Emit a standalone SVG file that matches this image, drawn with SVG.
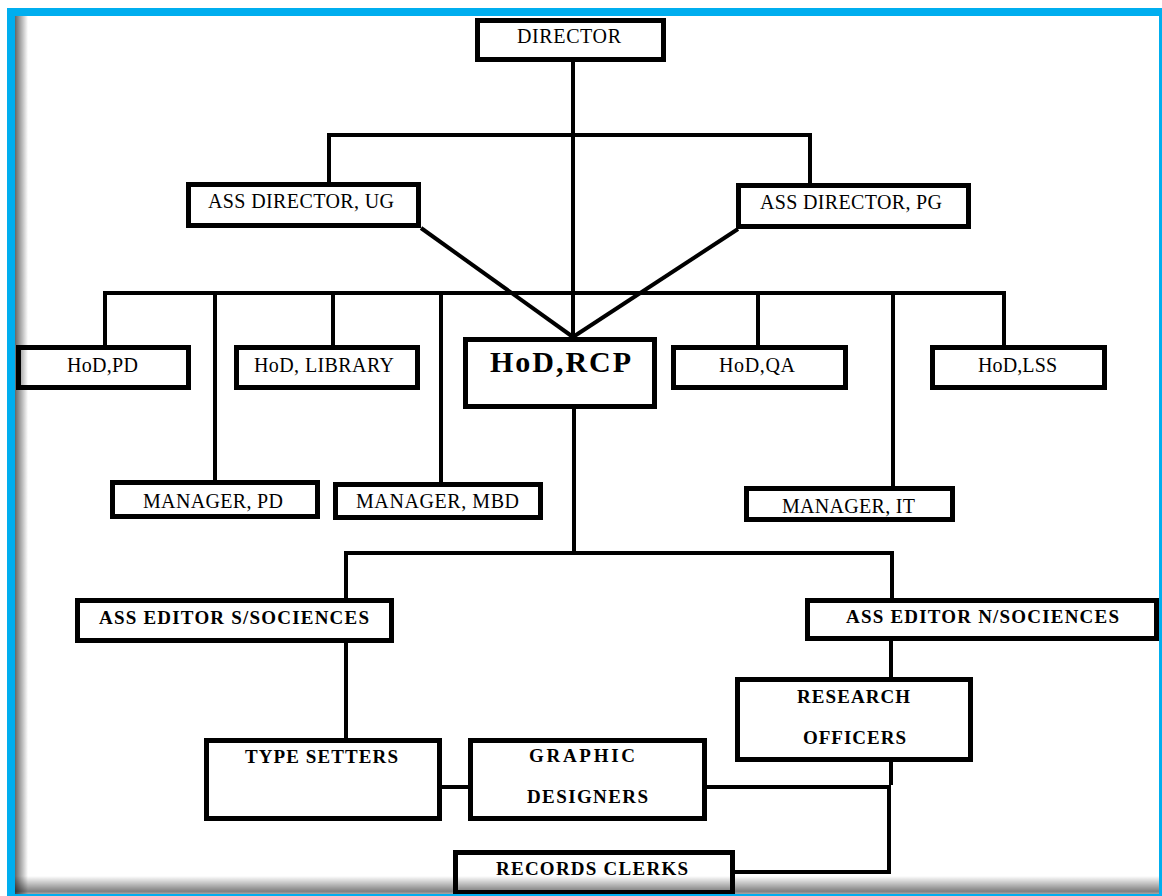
<svg xmlns="http://www.w3.org/2000/svg" width="1162" height="896" viewBox="0 0 1162 896">
<defs>
<linearGradient id="shL" x1="0" y1="0" x2="1" y2="0">
<stop offset="0" stop-color="#000" stop-opacity="0.6"/>
<stop offset="1" stop-color="#000" stop-opacity="0"/>
</linearGradient>
<linearGradient id="shB" x1="0" y1="0" x2="0" y2="1">
<stop offset="0" stop-color="#000" stop-opacity="0"/>
<stop offset="0.85" stop-color="#000" stop-opacity="0.5"/>
<stop offset="1" stop-color="#000" stop-opacity="0.35"/>
</linearGradient>
<style>
.box{fill:#fff;stroke:#000;stroke-width:5}
.ln{fill:none;stroke:#000;stroke-width:4}
.t{font-family:"Liberation Serif","Times New Roman",serif;font-size:20px;fill:#000}
.b{font-family:"Liberation Serif","Times New Roman",serif;font-size:19px;font-weight:bold;fill:#000}
.big{font-family:"Liberation Serif","Times New Roman",serif;font-size:30px;font-weight:bold;fill:#000}
</style>
</defs>
<rect x="0" y="0" width="1162" height="896" fill="#fff"/>

<g id="connectors">
<path class="ln" d="M573,62 V337"/>
<path class="ln" d="M329,183 V135 H810 V184"/>
<path class="ln" d="M421,228 L573,337"/>
<path class="ln" d="M738,229 L573,337"/>
<path class="ln" d="M105,346 V293 H1004 V346"/>
<path class="ln" d="M215,293 V481"/>
<path class="ln" d="M333,293 V346"/>
<path class="ln" d="M441,293 V483"/>
<path class="ln" d="M758,293 V346"/>
<path class="ln" d="M893,293 V487"/>
<path class="ln" d="M574,409 V553"/>
<path class="ln" d="M346,599 V553 H892 V599"/>
<path class="ln" d="M346,643 V739"/>
<path class="ln" d="M891,641 V678"/>
<path class="ln" d="M440,787 H470"/>
<path class="ln" d="M891,760 V785"/>
<path class="ln" d="M706,787 H889 V872 H734"/>
</g>

<g id="director"><rect class="box" x="477.5" y="20.5" width="186" height="39"/><text class="t" x="517" y="43" textLength="104">DIRECTOR</text></g>
<g id="ass-director-ug"><rect class="box" x="188.5" y="184.5" width="230" height="41"/><text class="t" x="208" y="208" textLength="186">ASS DIRECTOR, UG</text></g>
<g id="ass-director-pg"><rect class="box" x="738.5" y="185.5" width="230" height="41"/><text class="t" x="760" y="209" textLength="182">ASS DIRECTOR, PG</text></g>
<g id="hod-pd"><rect class="box" x="18.5" y="347.5" width="170" height="40"/><text class="t" x="67" y="372" textLength="71">HoD,PD</text></g>
<g id="hod-library"><rect class="box" x="236.5" y="347.5" width="181" height="40"/><text class="t" x="254" y="372" textLength="140">HoD, LIBRARY</text></g>
<g id="hod-rcp"><rect class="box" x="465.5" y="339.5" width="189" height="67"/><text class="big" x="490" y="372" textLength="141">HoD,RCP</text></g>
<g id="hod-qa"><rect class="box" x="673.5" y="347.5" width="172" height="40"/><text class="t" x="719" y="372" textLength="76">HoD,QA</text></g>
<g id="hod-lss"><rect class="box" x="932.5" y="347.5" width="172" height="40"/><text class="t" x="978" y="372" textLength="79">HoD,LSS</text></g>
<g id="manager-pd"><rect class="box" x="112.5" y="482.5" width="205" height="34"/><text class="t" x="143" y="508" textLength="140">MANAGER, PD</text></g>
<g id="manager-mbd"><rect class="box" x="335.5" y="484.5" width="205" height="33"/><text class="t" x="356" y="508" textLength="163">MANAGER, MBD</text></g>
<g id="manager-it"><rect class="box" x="746.5" y="488.5" width="206" height="31"/><text class="t" x="782" y="513" textLength="133">MANAGER, IT</text></g>
<g id="ass-editor-s"><rect class="box" x="77.5" y="600.5" width="314" height="40"/><text class="b" x="99" y="624" textLength="270">ASS EDITOR S/SOCIENCES</text></g>
<g id="ass-editor-n"><rect class="box" x="807.5" y="600.5" width="349" height="38"/><text class="b" x="846" y="623" textLength="273">ASS EDITOR N/SOCIENCES</text></g>
<g id="research-officers"><rect class="box" x="737.5" y="679.5" width="233" height="80"/><text class="b" x="797" y="703" textLength="113">RESEARCH</text><text class="b" x="803" y="744" textLength="103">OFFICERS</text></g>
<g id="type-setters"><rect class="box" x="206.5" y="740.5" width="233" height="78"/><text class="b" x="245" y="763" textLength="153">TYPE SETTERS</text></g>
<g id="graphic-designers"><rect class="box" x="470.5" y="740.5" width="234" height="78"/><text class="b" x="529" y="762" textLength="106">GRAPHIC</text><text class="b" x="527" y="803" textLength="121">DESIGNERS</text></g>
<g id="records-clerks"><rect class="box" x="455.5" y="852.5" width="277" height="40"/><text class="b" x="496" y="875" textLength="192">RECORDS CLERKS</text></g>

<g id="frame">
<rect x="15" y="16" width="13" height="878" fill="url(#shL)"/>
<rect x="15" y="876" width="1144" height="18" fill="url(#shB)"/>
<rect x="11" y="12" width="1152" height="886" fill="none" stroke="#00AEEF" stroke-width="8"/>
</g>
</svg>
